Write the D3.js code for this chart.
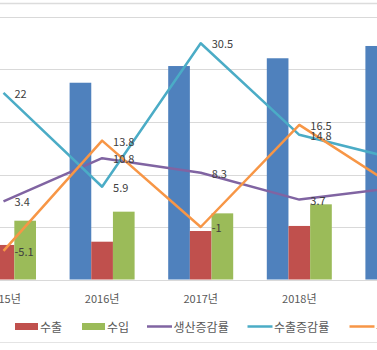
<!DOCTYPE html>
<html><head><meta charset="utf-8">
<script src="https://cdn.jsdelivr.net/npm/d3@7"></script>
<style>body{margin:0;background:#fff} svg{display:block}</style>
</head><body><svg id="c" width="377" height="350"></svg>
<script>
const years = ["2015년","2016년","2017년","2018년","2019년"];
const production = [176, 187.4, 203.3, 210.7, 222.4];
const exportsVal = [32.9, 36, 46.2, 51, 52];
const importsVal = [56, 64.6, 63, 71.6, 70];
const prodGrowth = [3.4, 10.8, 8.3, 3.7, 5.8];
const exportGrowth = [22, 5.9, 30.5, 14.8, 10.6];
const importGrowth = [-5.1, 13.8, -1, 16.5, 5.6];
const barTicks = [0, 50, 100, 150, 200, 250];
const lineDomain = [-10, 35];
const barNames = ["생산", "수출", "수입"];
const lineNames = ["생산증감률", "수출증감률", "수입증감률"];

const barColors = {"생산":"#4F81BD","수출":"#C0504D","수입":"#9BBB59"};
const lineColors = {"생산증감률":"#8064A2","수출증감률":"#4BACC6","수입증감률":"#F79646"};
const barData = {"생산":production,"수출":exportsVal,"수입":importsVal};
const lineData = {"생산증감률":prodGrowth,"수출증감률":exportGrowth,"수입증감률":importGrowth};

const svg = d3.select("#c");
const font = "'Noto Sans CJK KR','Noto Sans',sans-serif";
const plotTop = 17, plotBottom = 279.5;

const x = d3.scaleBand().domain(years).range([-45.8, 447.2]).padding(0);
const bw = x.bandwidth();
const groupW = 65;
const x1 = d3.scaleBand().domain(barNames).range([(bw-groupW)/2, (bw+groupW)/2]).padding(0);
const y = d3.scaleLinear().domain([barTicks[0], barTicks[barTicks.length-1]]).range([plotBottom, plotTop]);
const y2 = d3.scaleLinear().domain(lineDomain).range([plotBottom, plotTop]);

// chart frame lines
svg.append("line").attr("x1",0).attr("x2",377).attr("y1",3.5).attr("y2",3.5).attr("stroke","#dcdcdc").attr("stroke-width",1.5);
svg.append("line").attr("x1",0).attr("x2",377).attr("y1",342.5).attr("y2",342.5).attr("stroke","#e4e4e4").attr("stroke-width",1);

// gridlines
svg.append("g").selectAll("line").data(barTicks).join("line")
  .attr("x1",0).attr("x2",377)
  .attr("y1",d=>Math.round(y(d))+0.5).attr("y2",d=>Math.round(y(d))+0.5)
  .attr("stroke","#d9d9d9").attr("stroke-width",1);

// bars
const g = svg.append("g");
years.forEach((yr,i)=>{
  barNames.forEach(n=>{
    const v = barData[n][i];
    g.append("rect")
      .attr("x", x(yr)+x1(n))
      .attr("y", y(v))
      .attr("width", x1.bandwidth())
      .attr("height", y(0)-y(v))
      .attr("fill", barColors[n]);
  });
});

// x-axis labels
const xAxis = d3.axisBottom(x).tickSize(0).tickPadding(0);
const ax = svg.append("g").attr("transform",`translate(0,${plotBottom})`).call(xAxis);
ax.select(".domain").remove();
ax.selectAll("text").attr("font-family",font).attr("font-size",11).attr("fill","#595959")
  .attr("dy",null).attr("y",18.5).attr("dominant-baseline","central");

// lines
const cx = d => x(d)+bw/2;
lineNames.forEach(n=>{
  const pts = years.map((yr,i)=>[cx(yr), y2(lineData[n][i])]);
  svg.append("path").attr("d", d3.line()(pts)).attr("fill","none")
    .attr("stroke", lineColors[n]).attr("stroke-width",2.5).attr("stroke-linejoin","round");
});
// data labels
lineNames.forEach(n=>{
  years.forEach((yr,i)=>{
    const v = lineData[n][i];
    svg.append("text").attr("x", cx(yr)+11).attr("y", y2(v))
      .attr("dominant-baseline","central")
      .attr("font-family",font).attr("font-size",11).attr("fill","#404040")
      .text(v);
  });
});

// legend
const legendItems = [
  {name:"생산", type:"rect", color:barColors["생산"], x:-51},
  {name:"수출", type:"rect", color:barColors["수출"], x:15},
  {name:"수입", type:"rect", color:barColors["수입"], x:82},
  {name:"생산증감률", type:"line", color:lineColors["생산증감률"], x:147},
  {name:"수출증감률", type:"line", color:lineColors["수출증감률"], x:247.5},
  {name:"수입증감률", type:"line", color:lineColors["수입증감률"], x:349.5}
];
const ly = 326.5;
const lg = svg.append("g");
legendItems.forEach(it=>{
  if(it.type==="rect"){
    lg.append("rect").attr("x",it.x).attr("y",ly-3.5).attr("width",23).attr("height",7).attr("fill",it.color);
    lg.append("text").attr("x",it.x+25).attr("y",ly).attr("dominant-baseline","central")
      .attr("font-family",font).attr("font-size",12).attr("fill","#595959").text(it.name);
  } else {
    lg.append("line").attr("x1",it.x).attr("x2",it.x+25).attr("y1",ly).attr("y2",ly)
      .attr("stroke",it.color).attr("stroke-width",2.5);
    lg.append("text").attr("x",it.x+26.5).attr("y",ly).attr("dominant-baseline","central")
      .attr("font-family",font).attr("font-size",12).attr("fill","#595959").text(it.name);
  }
});
</script></body></html>
